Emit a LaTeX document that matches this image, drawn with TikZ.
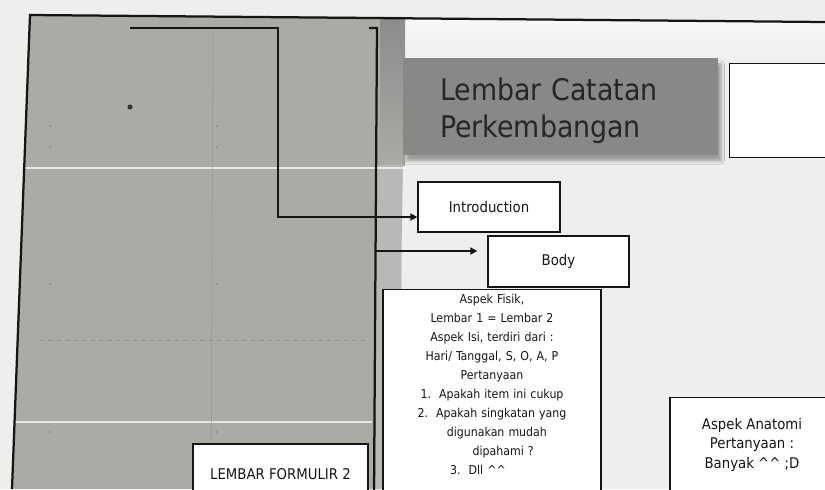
\documentclass[tikz,border=0pt]{standalone}
\usepackage{fontspec}
\setmainfont{DejaVu Sans Condensed}
\usepackage{xcolor}
\definecolor{slidebg}{HTML}{EEEEEC}
\definecolor{panelgray}{HTML}{A9ABA5}
\definecolor{titlegray}{HTML}{888886}
\definecolor{inkcolor}{HTML}{151515}
\usepackage{tikz}
\usetikzlibrary{arrows.meta, positioning, calc, shadows.blur}

\tikzset{
  box/.style={draw=inkcolor, fill=white, line width=0.9pt, text=inkcolor, align=center,
    font=\fontsize{8.7}{13.5}\selectfont},
  titlebox/.style={fill=titlegray, text=black!85, align=left, inner sep=0pt,
    font=\fontsize{21.2}{26.5}\selectfont,
    blur shadow={shadow xshift=2pt, shadow yshift=-4pt, shadow blur steps=6, shadow opacity=35}},
  rail/.style={draw=inkcolor, line width=1.6pt},
  link/.style={rail, -{Triangle[length=5pt, width=5pt]}},
  formline/.style={draw=white, opacity=0.75, line width=1pt},
}

\begin{document}
\begin{tikzpicture}[x=0.025cm, y=-0.025cm]
  \useasboundingbox (0,0) rectangle (825,489);
  \clip (0,0) rectangle (825,489);
  \fill[slidebg] (0,0) rectangle (825,489);
  \shade[top color=white!97!black, bottom color=slidebg] (405,20) rectangle (825,70);

  % scanned form on the left
  \fill[panelgray] (30,15) -- (405,17) -- (398,489) -- (12,489) -- cycle;
  \shade[top color=black!45, bottom color=panelgray] (380,17) rectangle (405,165);
  \fill[black!22, opacity=0.5] (376,165) rectangle (402,489);
  \draw[formline] (24,168) -- (405,168);
  \draw[formline] (14,422) -- (372,422);
  \draw[black!45, dashed, line width=0.4pt] (40,340) -- (365,340);
  \draw[black!40, line width=0.4pt] (213,35) -- (211,489);
  \fill[black!80] (130,107) circle (1.8pt);
  \foreach \yy in {126,147,284,432}
  {
    \fill[black!45] (50,\yy) circle (0.8pt);
    \fill[black!45] (217,\yy) circle (0.8pt);
  }
  \draw[rail] (12,489) -- (30,15) -- (825,22);

  % title and boxes
  \node[titlebox, anchor=north west, minimum width=7.875cm, minimum height=2.425cm,
    text width=6.025cm, text height=22pt] (title) at (403,58) {Lembar Catatan\\Perkembangan};
  \node[box, anchor=north west, minimum width=2.9cm, minimum height=2.35cm] (blank) at (729,63) {};
  \node[box, minimum width=3.55cm, minimum height=1.25cm, font=\fontsize{10.5}{12}\selectfont]
    (intro) at (489,207) {Introduction};
  \node[box, minimum width=3.525cm, minimum height=1.275cm, font=\fontsize{10.5}{12}\selectfont]
    (body) at (558.5,261.5) {Body};
  \node[box, anchor=north, text width=5.45cm, inner xsep=0pt, text depth=160pt] (fisik) at (492,289)
    {Aspek Fisik,\\
     Lembar 1 = Lembar 2\\
     Aspek Isi, terdiri dari :\\
     Hari/ Tanggal, S, O, A, P\\
     Pertanyaan\\
     1.\ \ Apakah item ini cukup\\
     2.\ \ Apakah singkatan yang\\
     \hspace*{7pt}digunakan mudah\\
     \hspace*{16pt}dipahami ?\\
     3.\ \ Dll \textasciicircum\textasciicircum\hspace*{20pt}};
  \node[box, anchor=north, minimum width=4.1cm, minimum height=2.35cm,
    font=\fontsize{10.5}{14}\selectfont] (anatomi) at (752,397)
    {Aspek Anatomi\\ Pertanyaan :\\ Banyak \textasciicircum\textasciicircum\ ;D};
  \node[box, minimum width=4.375cm, minimum height=1.5cm, font=\fontsize{10.5}{12}\selectfont]
    (formulir) at (280.5,474) {LEMBAR FORMULIR 2};

  % connectors
  \coordinate (formA) at (130,28);
  \draw[link] (formA) -- ++(148,0) |- ([yshift=-2.5mm]intro.west);
  \coordinate (hookB) at (369,28);
  \coordinate (railtop) at (377,28);
  \coordinate (railend) at (374,495);
  \draw[rail] (hookB) -- (railtop) -- (railend);
  \coordinate (forkB) at (376,251);
  \draw[link, shorten >=0.25cm] (forkB) -- (forkB -| body.west);
\end{tikzpicture}
\end{document}
